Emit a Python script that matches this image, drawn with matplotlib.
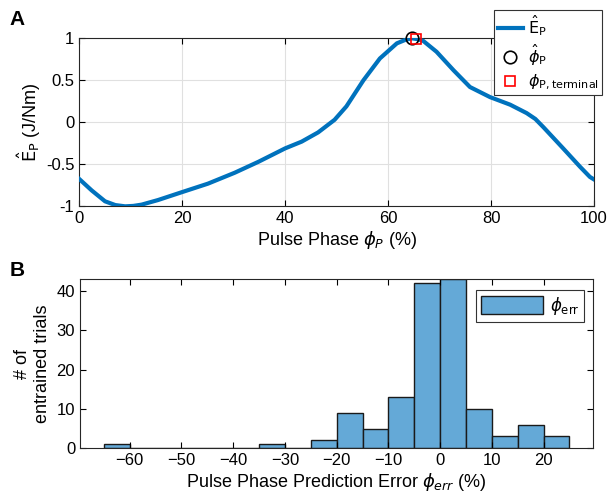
import numpy as np
import matplotlib
matplotlib.use("Agg")
import matplotlib.pyplot as plt

plt.rcParams['font.family'] = ['Liberation Sans', 'DejaVu Sans']
plt.rcParams['mathtext.fontset'] = 'dejavusans'

# Panel A data
phase = [0, 2.4, 5.0, 7.0, 8.9, 10.5, 12.1, 15.3, 20, 25, 30.2, 34.8, 40, 43.2, 46.4,
         49.6, 51.9, 55.2, 58.4, 61.7, 63.3, 64.6, 65.7, 66.8, 69.4, 72.7, 75.9, 79.8, 83.7,
         86.9, 88.6, 90.2, 94.0, 97.3, 99.2, 100]
energy = [-0.675, -0.81, -0.94, -0.985, -1.0, -0.995, -0.98, -0.925, -0.83, -0.73, -0.60,
          -0.47, -0.31, -0.23, -0.12, 0.03, 0.19, 0.50, 0.76, 0.94, 0.98, 1.0, 0.99,
          0.97, 0.84, 0.62, 0.42, 0.30, 0.21, 0.11, 0.04, -0.06, -0.31, -0.53, -0.65, -0.68]
phi_hat = [64.6]
phi_hat_val = [1.0]
phi_term = [65.5]
phi_term_val = [0.99]

# Panel B data
bin_edges = [-65, -60, -55, -50, -45, -40, -35, -30, -25, -20, -15, -10, -5, 0, 5, 10, 15, 20, 25]
counts = [1, 0, 0, 0, 0, 0, 1, 0, 2, 9, 5, 13, 42, 43, 10, 3, 6, 3]

fig = plt.figure(figsize=(6.08, 4.96), dpi=100)
ax1 = fig.add_axes([0.1304, 0.584, 0.8466, 0.3388])
ax2 = fig.add_axes([0.1316, 0.0962, 0.8442, 0.3407])

ax1.plot(phase, energy, color='#0072BD', lw=3, label=r'$\hat{\mathrm{E}}_{\mathrm{P}}$', zorder=3)
ax1.plot(phi_hat, phi_hat_val, 'o', mfc='none', mec='black', ms=9, mew=1.2,
         label=r'$\hat{\phi}_{\mathrm{P}}$', zorder=4, clip_on=False)
ax1.plot(phi_term, phi_term_val, 's', mfc='none', mec='red', ms=7, mew=1.2,
         label=r'$\phi_{\mathrm{P,terminal}}$', zorder=4, clip_on=False)
ax1.set_xlim(0, 100)
ax1.set_ylim(-1, 1)
ax1.set_xticks([0, 20, 40, 60, 80, 100])
ax1.set_yticks([-1, -0.5, 0, 0.5, 1])
ax1.set_yticklabels(['-1', '-0.5', '0', '0.5', '1'])
ax1.grid(True, color='#e0e0e0', lw=0.8)
ax1.set_axisbelow(True)
ax1.set_xlabel(r'Pulse Phase $\phi_P$ (%)', fontsize=13, labelpad=2)
ax1.set_ylabel(r'$\hat{\mathrm{E}}_{\mathrm{P}}$ (J/Nm)', fontsize=13, labelpad=2)
leg1 = ax1.legend(loc='upper right', bbox_to_anchor=(1.0156, 1.168), fontsize=11.5, frameon=True,
                  fancybox=False, edgecolor='#333333', framealpha=1, handlelength=1.6,
                  borderaxespad=0, handletextpad=0.3, labelspacing=0.3, borderpad=0.2)
leg1.get_frame().set_linewidth(0.8)

ax2.bar(bin_edges[:-1], counts, width=np.diff(bin_edges), align='edge',
        color='#64a9d7', edgecolor='#1a1a1a', lw=1.0, label=r'$\phi_{\mathrm{err}}$')
ax2.set_xlim(-69.6, 29.6)
ax2.set_ylim(0, 43)
ax2.set_xticks([-60, -50, -40, -30, -20, -10, 0, 10, 20])
ax2.set_yticks([0, 10, 20, 30, 40])
ax2.set_xlabel(r'Pulse Phase Prediction Error $\phi_{err}$ (%)', fontsize=13, labelpad=2)
ax2.set_ylabel('# of\nentrained trials', fontsize=13, labelpad=4)
leg2 = ax2.legend(loc='upper right', bbox_to_anchor=(0.9825, 0.937), fontsize=12, frameon=True,
                  fancybox=False, edgecolor='#333333', framealpha=1, handlelength=3.7,
                  handleheight=1.3, borderaxespad=0, handletextpad=0.4, borderpad=0.3)
leg2.get_frame().set_linewidth(0.8)

for ax in (ax1, ax2):
    ax.tick_params(direction='in', top=True, right=True, labelsize=12, length=4, width=0.8)
    for s in ax.spines.values():
        s.set_linewidth(0.8)
        s.set_color('#262626')

fig.text(0.016, 0.96, 'A', fontsize=15, fontweight='bold', va='center')
fig.text(0.016, 0.455, 'B', fontsize=15, fontweight='bold', va='center')

fig.savefig('out.png', dpi=100)
